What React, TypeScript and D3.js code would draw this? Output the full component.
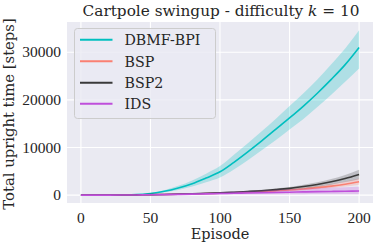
import React from 'react';
import * as d3 from 'd3';

const episodes = [0, 10, 20, 30, 40, 50, 60, 70, 80, 90, 100, 110, 120, 130, 140, 150, 160, 170, 180, 190, 200];

const dbmfMean = [0, 0, 10, 30, 100, 350, 800, 1500, 2400, 3600, 4900, 6900, 9100, 11400, 13800, 16200, 18700, 21400, 24300, 27400, 31000];
const dbmfLow = [0, 0, 0, 20, 70, 250, 600, 1100, 1800, 2700, 3700, 5400, 7300, 9400, 11500, 13800, 16000, 18500, 21100, 23800, 26600];
const dbmfHigh = [0, 0, 20, 50, 140, 450, 1050, 1950, 3100, 4500, 6100, 8500, 10900, 13400, 16000, 18700, 21400, 24300, 27500, 30800, 34600];

const bspMean = [0, 0, 10, 20, 40, 80, 120, 180, 250, 330, 420, 510, 620, 750, 900, 1080, 1300, 1580, 1900, 2300, 2800];
const bspLow = [0, 0, 0, 10, 20, 50, 80, 130, 180, 250, 320, 400, 480, 580, 700, 850, 1020, 1250, 1500, 1800, 2200];
const bspHigh = [0, 0, 20, 30, 60, 110, 160, 230, 320, 420, 530, 640, 780, 940, 1120, 1340, 1600, 1930, 2320, 2850, 3500];

const bsp2Mean = [0, 0, 0, 20, 50, 100, 150, 220, 300, 400, 500, 620, 760, 930, 1150, 1420, 1800, 2250, 2800, 3500, 4350];
const bsp2Low = [0, 0, 0, 10, 30, 70, 110, 170, 230, 310, 390, 480, 590, 720, 900, 1120, 1420, 1780, 2200, 2750, 3350];
const bsp2High = [0, 0, 10, 30, 70, 130, 190, 270, 370, 490, 610, 760, 930, 1140, 1400, 1720, 2180, 2720, 3400, 4250, 5350];

const idsMean = [0, 0, 10, 20, 40, 70, 110, 160, 210, 270, 330, 390, 450, 510, 570, 620, 680, 730, 780, 820, 860];
const idsLow = [0, 0, 0, 0, 10, 20, 30, 50, 60, 80, 100, 110, 120, 130, 140, 150, 160, 170, 180, 190, 200];
const idsHigh = [0, 10, 30, 50, 90, 150, 230, 320, 420, 530, 640, 760, 880, 1000, 1120, 1240, 1360, 1480, 1580, 1680, 1780];

const seriesNames = ['DBMF-BPI', 'BSP', 'BSP2', 'IDS'];
const seriesColors = ['#00BFBF', '#FA8072', '#3a3a3a', '#BF4FDB'];
const xTicks = [0, 50, 100, 150, 200];
const yTicks = [0, 10000, 20000, 30000];

const W = 374;
const H = 245;
const plot = { left: 67, right: 373, top: 22, bottom: 203 };
// digits: Times-like metrics are close to the reference; words: DejaVu Serif matches widths better
const NUM_FONT = 'Liberation Serif';
const TXT_FONT = 'DejaVu Serif';

export default function App() {
  const x = d3.scaleLinear().domain([-10, 210]).range([plot.left, plot.right]);
  const y = d3.scaleLinear().domain([-1650, 36350]).range([plot.bottom, plot.top]);

  const series = [
    { mean: dbmfMean, low: dbmfLow, high: dbmfHigh },
    { mean: bspMean, low: bspLow, high: bspHigh },
    { mean: bsp2Mean, low: bsp2Low, high: bsp2High },
    { mean: idsMean, low: idsLow, high: idsHigh },
  ];

  const line = d3.line<number>()
    .x((_d, i) => x(episodes[i]))
    .y(d => y(d))
    .curve(d3.curveMonotoneX);

  const area = (low: number[], high: number[]) =>
    d3.area<number>()
      .x((_d, i) => x(episodes[i]))
      .y0((_d, i) => y(low[i]))
      .y1((_d, i) => y(high[i]))
      .curve(d3.curveMonotoneX)(low) || '';

  const legendRows = [39.7, 61.3, 82.7, 103.7];

  return (
    <svg width={W} height={H} style={{ position: 'absolute', left: 0, top: 0 }}>
      <rect x={0} y={0} width={W} height={H} fill="#ffffff" />
      <rect x={plot.left} y={plot.top} width={plot.right - plot.left} height={plot.bottom - plot.top} fill="#EAEAF2" />
      {xTicks.map(t => (
        <line key={'gx' + t} x1={x(t)} x2={x(t)} y1={plot.top} y2={plot.bottom} stroke="#ffffff" strokeWidth={1.1} />
      ))}
      {yTicks.map(t => (
        <line key={'gy' + t} x1={plot.left} x2={plot.right} y1={y(t)} y2={y(t)} stroke="#ffffff" strokeWidth={1.1} />
      ))}

      {series.map((s, i) => (
        <g key={seriesNames[i]}>
          <path d={area(s.low, s.high)} fill={seriesColors[i]} fillOpacity={0.25} />
          <path d={line(s.mean) || ''} fill="none" stroke={seriesColors[i]} strokeWidth={1.6} />
        </g>
      ))}

      {xTicks.map(t => (
        <text key={'tx' + t} x={x(t)} y={222.5} textAnchor="middle" fontFamily={NUM_FONT} fontSize={15.5} fill="#262626">{t}</text>
      ))}
      {yTicks.map(t => (
        <text key={'ty' + t} x={61} y={y(t) + 5.2} textAnchor="end" fontFamily={NUM_FONT} fontSize={15.5} fill="#262626">{t}</text>
      ))}

      <text x={(plot.left + plot.right) / 2 + 1} y={16} textAnchor="middle" fontFamily={TXT_FONT} fontSize={15.3} fill="#262626">
        Cartpole swingup - difficulty <tspan fontStyle="italic">k</tspan> = 10
      </text>
      <text x={(plot.left + plot.right) / 2} y={238.5} textAnchor="middle" fontFamily={TXT_FONT} fontSize={14.5} fill="#262626">Episode</text>
      <text transform={`translate(14, ${(plot.top + plot.bottom) / 2 + 1.5}) rotate(-90)`} textAnchor="middle" fontFamily={TXT_FONT} fontSize={14.8} fill="#262626">
        Total upright time [steps]
      </text>

      <rect x={74.5} y={28.5} width={141} height={90} rx={3} fill="#EAEAF2" fillOpacity={0.8} stroke="#cccccc" strokeWidth={1} />
      {seriesNames.map((n, i) => (
        <g key={'lg' + n}>
          <line x1={80} x2={112.5} y1={legendRows[i]} y2={legendRows[i]} stroke={seriesColors[i]} strokeWidth={2} />
          <text x={124.5} y={legendRows[i] + 5.3} fontFamily={TXT_FONT} fontSize={14.2} fill="#262626">{n}</text>
        </g>
      ))}
    </svg>
  );
}
